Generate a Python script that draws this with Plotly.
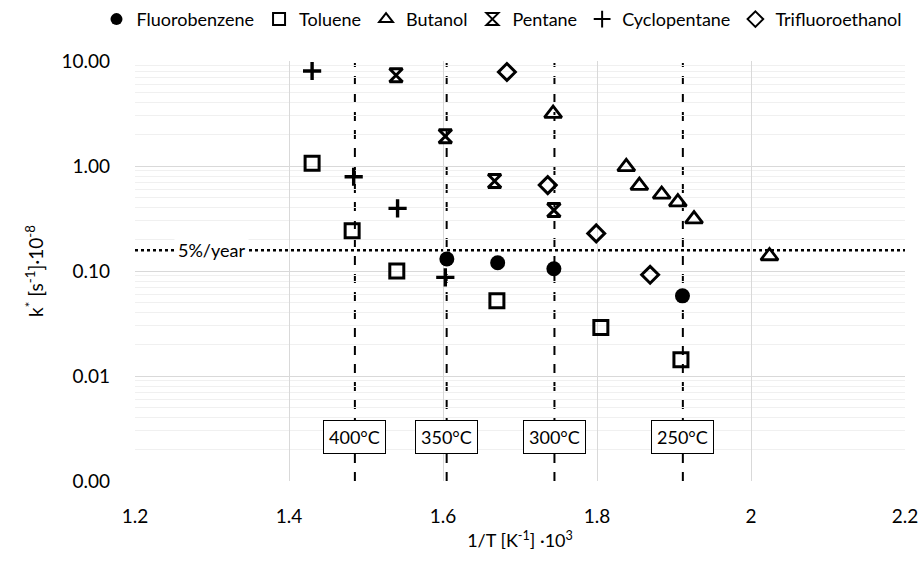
import plotly.graph_objects as go
import numpy as np

# ---- data: 1/T [1/K]*1e3 and k* [1/s]*1e-8 ----
fluoro_x = [1.605, 1.671, 1.744, 1.911]
fluoro_y = [0.130, 0.120, 0.105, 0.058]

toluene_x = [1.430, 1.482, 1.540, 1.670, 1.805, 1.909]
toluene_y = [1.06, 0.242, 0.100, 0.052, 0.029, 0.0143]

butanol_x = [1.743, 1.838, 1.855, 1.884, 1.905, 1.926, 2.024]
butanol_y = [3.16, 0.98, 0.65, 0.536, 0.453, 0.312, 0.139]

pentane_x = [1.539, 1.603, 1.667, 1.744]
pentane_y = [7.31, 1.92, 0.72, 0.38]

cyclo_x = [1.430, 1.484, 1.541, 1.603]
cyclo_y = [8.03, 0.79, 0.395, 0.087]

tfe_x = [1.683, 1.736, 1.799, 1.869]
tfe_y = [7.86, 0.658, 0.228, 0.092]

# reference temperatures (deg C) and the 5 %/year degradation rate
temps_c = [400, 350, 300, 250]
rate_5pct = 0.158

x_ticks = [1.2, 1.4, 1.6, 1.8, 2.0, 2.2]
x_ticklabels = ["1.2", "1.4", "1.6", "1.8", "2", "2.2"]
y_ticks = [0.001, 0.01, 0.1, 1, 10]
y_ticklabels = ["0.00", "0.01", "0.10", "1.00", "10.00"]

FONT = "Lato"
BLACK = "#000000"

fig = go.Figure()

series = [
    ("Fluorobenzene", fluoro_x, fluoro_y, "circle", 15, 0),
    ("Toluene", toluene_x, toluene_y, "square-open", 14, 3),
    ("Butanol", butanol_x, butanol_y, "triangle-up-open", 15, 2.8),
    ("Pentane", pentane_x, pentane_y, "hourglass-open", 13, 3),
    ("Cyclopentane", cyclo_x, cyclo_y, "cross-thin-open", 13, 3.4),
    ("Trifluoroethanol", tfe_x, tfe_y, "diamond-open", 13, 3),
]
for name, xs, ys, sym, size, lw in series:
    fig.add_trace(go.Scatter(
        x=xs, y=ys, mode="markers", name=name,
        marker=dict(symbol=sym, size=size, color=BLACK,
                    line=dict(color=BLACK, width=lw)),
    ))

# vertical dashed isotherms
for t in temps_c:
    xv = 1000.0 / (t + 273.15)
    fig.add_shape(type="line", xref="x", yref="y domain",
                  x0=xv, x1=xv, y0=0, y1=0.995, layer="below",
                  line=dict(color=BLACK, width=2, dash="dash"))
    fig.add_annotation(x=xv, y=np.log10(0.00264), xref="x", yref="y",
                       text=f"{t}°C", showarrow=False,
                       font=dict(family=FONT, size=18, color=BLACK),
                       bgcolor="white", bordercolor=BLACK, borderwidth=1,
                       borderpad=5)

# 5 %/year threshold
fig.add_shape(type="line", xref="x domain", yref="y",
              x0=0, x1=1, y0=rate_5pct, y1=rate_5pct, layer="below",
              line=dict(color=BLACK, width=2.5, dash="dot"))
fig.add_annotation(x=1.2995, y=np.log10(rate_5pct), xref="x", yref="y",
                   text="5%/year", showarrow=False,
                   font=dict(family=FONT, size=18, color=BLACK),
                   bgcolor="white", borderpad=3)

minor_vals = [m * 10.0 ** e for e in range(-3, 1) for m in range(2, 10)]

fig.update_layout(
    width=922, height=564,
    margin=dict(l=135, r=17, t=61, b=83, autoexpand=False),
    paper_bgcolor="white", plot_bgcolor="white",
    font=dict(family=FONT, color=BLACK),
    showlegend=True,
    legend=dict(orientation="h", x=-0.05, xanchor="left",
                y=1.099, yanchor="middle",
                font=dict(family=FONT, size=18, color=BLACK),
                itemwidth=30, itemsizing="constant",
                tracegroupgap=0, bgcolor="rgba(0,0,0,0)"),
    xaxis=dict(range=[1.2, 2.2], tickvals=x_ticks, ticktext=x_ticklabels,
               showgrid=True, gridcolor="#d9d9d9", gridwidth=1,
               zeroline=False, showline=False, ticks="",
               ticklabelstandoff=22,
               tickfont=dict(family=FONT, size=19, color=BLACK),
               title=dict(text="1/T [K<sup>-1</sup>] ·10<sup>3</sup>",
                          font=dict(family=FONT, size=18, color=BLACK),
                          standoff=8)),
    yaxis=dict(type="log", range=[-3, 1], tickvals=y_ticks,
               ticktext=y_ticklabels,
               showgrid=True, gridcolor="#d9d9d9", gridwidth=1,
               zeroline=False, showline=False, ticks="",
               ticklabelstandoff=24,
               tickfont=dict(family=FONT, size=19, color=BLACK),
               minor=dict(tickvals=minor_vals, showgrid=True,
                          gridcolor="#f0f0f0", gridwidth=1, ticks=""),
               title=dict(text="k<sup>*</sup> [s<sup>-1</sup>]·10<sup>-8</sup>",
                          font=dict(family=FONT, size=19, color=BLACK),
                          standoff=12)),
)

fig.write_html("out.html")
